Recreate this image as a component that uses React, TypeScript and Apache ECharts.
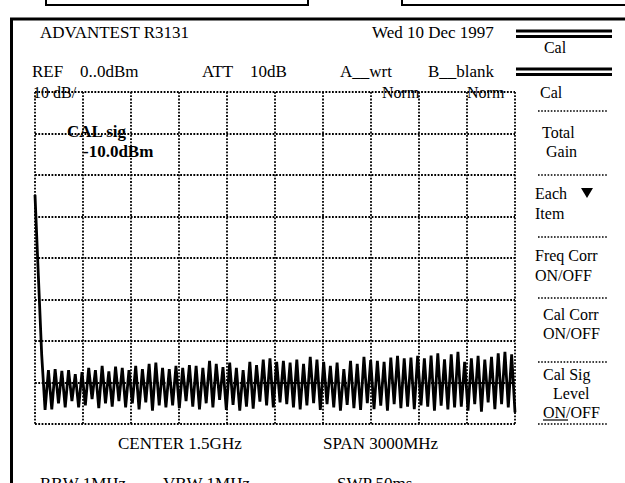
import React, { useEffect, useRef } from "react";
import * as echarts from "echarts";

// Sweep: 0 .. 3000 MHz, reference 0 dBm, 10 dB/div, 8 divisions
const SPAN_START_MHZ = 0;
const SPAN_END_MHZ = 3000;
const REF_LEVEL_DBM = 0;
const BOTTOM_LEVEL_DBM = -80;

// Trace samples (dBm), evenly spaced over the sweep
const TRACE_START = [-24.8, -44.3, -63.4, -76.6];
const TRACE_SEG1 = [
  -67, -76.5, -66.8, -75, -67.2, -76, -67, -74.5, -68, -76, -67.5, -75.5,
  -66.5, -74, -67, -76.2, -66, -75, -67.3, -75.8, -66.2, -74.5, -66.5, -76,
  -67, -75, -66, -76.5, -66.8, -74.8, -65.5, -76.8, -65.2, -75.5, -66.5, -76,
];
const TRACE_SEG2 = [
  -66.8, -75.5, -66, -76.2, -66.5, -74.5, -65.8, -75.8, -66, -76.5, -66.5, -75,
  -64.8, -76, -65.5, -74.2, -66.3, -76.6, -65.2, -75.4, -66.5, -76.8, -67, -75.8,
  -65, -76.3, -65.8, -74.6, -64.5, -75.5, -64.2, -76, -65, -74.8, -64.8, -75.2,
];
const TRACE_SEG3 = [
  -65.2, -76, -64.5, -76.5, -65.5, -75.5, -63.8, -75, -64.5, -76.6, -65, -75.2,
  -66, -76, -65.2, -76.8, -66.8, -75.4, -64.8, -76.2, -65.5, -76.6, -63.8, -75,
  -64.6, -76.4, -64.8, -75.6, -65, -76.8, -64, -75.2, -63.6, -76.2, -64.2, -75.8,
];
const TRACE_SEG4 = [
  -64, -76.4, -63.6, -75.5, -64.2, -75.8, -63.5, -76.8, -63, -75.6, -64.4, -76.5,
  -63.2, -76, -62.6, -75.8, -65, -76.8, -64.2, -75.2, -63.6, -77, -64.5, -74.8,
  -63.8, -76.4, -63, -75.2, -62.6, -76, -63.2, -77.2,
];

const HEADER_LEFT = "ADVANTEST R3131";
const HEADER_DATE = "Wed 10 Dec 1997";
const REF_LABEL = "REF";
const REF_VALUE = "0..0dBm";
const ATT_LABEL = "ATT";
const ATT_VALUE = "10dB";
const TRACE_A = "A__wrt";
const TRACE_B = "B__blank";
const SCALE_LABEL = "10 dB/";
const NORM_LABEL = "Norm";
const CAL_SIG = "CAL sig";
const CAL_SIG_LEVEL = "-10.0dBm";
const CENTER_LABEL = "CENTER 1.5GHz";
const SPAN_LABEL = "SPAN 3000MHz";
const RBW_LABEL = "RBW 1MHz";
const VBW_LABEL = "VBW 1MHz";
const SWP_LABEL = "SWP 50ms";

const SERIF = '"Liberation Serif", "Times New Roman", serif';

export default function App() {
  const ref = useRef<HTMLDivElement>(null);

  useEffect(() => {
    if (!ref.current) return;
    const chart = echarts.init(ref.current, undefined, { renderer: "svg" });

    const trace = [
      ...TRACE_START,
      ...TRACE_SEG1,
      ...TRACE_SEG2,
      ...TRACE_SEG3,
      ...TRACE_SEG4,
    ];
    const n = trace.length;
    const data = trace.map((v, i) => [
      SPAN_START_MHZ + ((SPAN_END_MHZ - SPAN_START_MHZ) * i) / (n - 1),
      v,
    ]);

    const dotted = { color: "#000", width: 1.8, type: [1.8, 1.5] as any };

    const txt = (
      text: string,
      x: number,
      y: number,
      size = 17,
      bold = false,
      align = "left"
    ) => ({
      type: "text",
      x,
      y,
      silent: true,
      z: 10,
      style: {
        text,
        font: `${bold ? "bold " : ""}${size}px ${SERIF}`,
        fill: "#000",
        textAlign: align,
        textVerticalAlign: "middle",
        verticalAlign: "middle",
      },
    });

    const hline = (x1: number, x2: number, y: number, w: number) => ({
      type: "line",
      silent: true,
      shape: { x1, y1: y, x2, y2: y },
      style: { stroke: "#000", lineWidth: w },
    });

    const sep = (y: number) => ({
      type: "line",
      silent: true,
      shape: { x1: 538, y1: y, x2: 608, y2: y },
      style: { stroke: "#000", lineWidth: 1.6, lineDash: [1.6, 1.6] },
    });

    const graphics: any[] = [
      // top partial boxes
      {
        type: "rect",
        silent: true,
        shape: { x: 46, y: -10, width: 262, height: 15 },
        style: { fill: "none", stroke: "#000", lineWidth: 2 },
      },
      {
        type: "rect",
        silent: true,
        shape: { x: 402, y: -10, width: 240, height: 15 },
        style: { fill: "none", stroke: "#000", lineWidth: 2 },
      },
      // outer frame
      hline(10, 625, 19, 3),
      {
        type: "line",
        silent: true,
        shape: { x1: 11.5, y1: 18, x2: 11.5, y2: 483 },
        style: { stroke: "#000", lineWidth: 3 },
      },
      // header
      txt(HEADER_LEFT, 40, 32),
      txt(HEADER_DATE, 372, 32),
      hline(516, 612, 31, 3),
      hline(516, 612, 36.5, 3),
      txt("Cal", 555, 47, 16, false, "center"),
      hline(516, 612, 69, 3),
      hline(516, 612, 74.5, 3),
      txt(REF_LABEL, 32, 71),
      txt(REF_VALUE, 80, 71),
      txt(ATT_LABEL, 202, 71),
      txt(ATT_VALUE, 250, 71),
      txt(TRACE_A, 340, 71),
      txt(TRACE_B, 428, 71),
      txt(SCALE_LABEL, 33, 92, 16),
      txt(NORM_LABEL, 382, 92, 16),
      txt(NORM_LABEL, 467, 92, 16),
      txt(CAL_SIG, 67, 131, 17, true),
      txt(CAL_SIG_LEVEL, 83, 151, 17, true),
      // softkey panel
      txt("Cal", 540, 92, 16),
      sep(111),
      txt("Total", 542, 132, 16),
      txt("Gain", 546, 151, 16),
      sep(175),
      txt("Each", 535, 193, 16),
      {
        type: "polygon",
        silent: true,
        shape: { points: [[581, 188], [593, 188], [587, 198]] },
        style: { fill: "#000" },
      },
      txt("Item", 535, 213, 16),
      sep(237),
      txt("Freq Corr", 535, 255, 16),
      txt("ON/OFF", 535, 275, 16),
      sep(298),
      txt("Cal Corr", 543, 314, 16),
      txt("ON/OFF", 543, 333, 16),
      sep(362),
      txt("Cal Sig", 543, 374, 16),
      txt("Level", 553, 393, 16),
      txt("ON/OFF", 543, 412, 16),
      hline(543, 568, 420, 1.2),
      sep(424),
      // footer
      txt(CENTER_LABEL, 118, 443),
      txt(SPAN_LABEL, 323, 443),
      txt(RBW_LABEL, 40, 483),
      txt(VBW_LABEL, 163, 483),
      txt(SWP_LABEL, 337, 483),
    ];

    chart.setOption({
      animation: false,
      backgroundColor: "#fff",
      grid: { left: 35, top: 92, width: 480, height: 332, containLabel: false },
      xAxis: {
        type: "value",
        min: SPAN_START_MHZ,
        max: SPAN_END_MHZ,
        interval: 300,
        axisLine: { show: false },
        axisTick: { show: false },
        axisLabel: { show: false },
        splitLine: { show: true, showMinLine: true, showMaxLine: true, lineStyle: dotted },
      },
      yAxis: {
        type: "value",
        min: BOTTOM_LEVEL_DBM,
        max: REF_LEVEL_DBM,
        interval: 10,
        axisLine: { show: false },
        axisTick: { show: false },
        axisLabel: { show: false },
        splitLine: { show: true, showMinLine: true, showMaxLine: true, lineStyle: dotted },
      },
      series: [
        {
          type: "line",
          data,
          symbol: "none",
          silent: true,
          lineStyle: { color: "#000", width: 2.8 },
          z: 5,
        },
      ],
      graphic: { elements: graphics },
    });

    return () => chart.dispose();
  }, []);

  return (
    <div
      ref={ref}
      style={{ position: "fixed", left: 0, top: 0, width: 625, height: 483, background: "#fff" }}
    />
  );
}
